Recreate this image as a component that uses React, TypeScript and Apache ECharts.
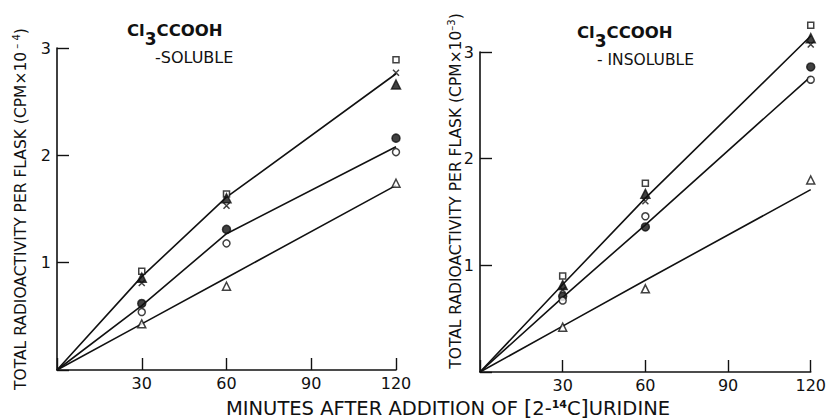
import React, { useEffect, useRef } from 'react';
import * as echarts from 'echarts';

// x positions of the measured points (minutes)
const minutes = [30, 60, 120];
// x positions of the fitted lines (minutes)
const lineMinutes = [0, 30, 60, 120];
const xTickLabels = ['30', '60', '90', '120'];
const yTickLabels = ['1', '2', '3'];

// Left panel: Cl3CCOOH-soluble (CPM x 10^-4)
const solOpenSquare = [0.92, 1.64, 2.89];
const solCross = [0.81, 1.53, 2.77];
const solFilledTriangle = [0.86, 1.6, 2.66];
const solFilledCircle = [0.62, 1.31, 2.16];
const solOpenCircle = [0.54, 1.18, 2.03];
const solOpenTriangle = [0.43, 0.78, 1.74];
const solLineUpper = [0, 0.87, 1.61, 2.76];
const solLineMiddle = [0, 0.6, 1.27, 2.08];
const solLineLower = [0, 0.43, 0.86, 1.72];

// Right panel: Cl3CCOOH-insoluble (CPM x 10^-3)
const insOpenSquare = [0.9, 1.77, 3.25];
const insCross = [0.77, 1.6, 3.07];
const insFilledTriangle = [0.815, 1.67, 3.13];
const insFilledCircle = [0.71, 1.36, 2.86];
const insOpenCircle = [0.67, 1.46, 2.74];
const insOpenTriangle = [0.42, 0.78, 1.8];
const insLineUpper = [0, 0.82, 1.63, 3.15];
const insLineMiddle = [0, 0.7, 1.38, 2.77];
const insLineLower = [0, 0.43, 0.86, 1.71];

const FONT = '"DejaVu Sans", "Liberation Sans", sans-serif';
const INK = '#111';

const crossPath = 'path://M0,0L10,10M0,10L10,0';

type MarkerDef = { name: string; symbol: string; size: number; filled: boolean; values: number[] };

function markerSeries(idx: number, defs: MarkerDef[]) {
  return defs.map((d) => ({
    type: 'scatter',
    name: d.name,
    xAxisIndex: idx,
    yAxisIndex: idx,
    symbol: d.symbol,
    symbolSize: d.size,
    clip: false,
    z: 5,
    data: minutes.map((m, i) => [m, d.values[i]]),
    itemStyle: d.symbol === crossPath
      ? { color: 'none', borderColor: INK, borderWidth: 1.5 }
      : { color: d.filled ? INK : '#fff', borderColor: INK, borderWidth: 1.5 },
  }));
}

function lineSeries(idx: number, lines: number[][]) {
  return lines.map((vals) => ({
    type: 'line',
    xAxisIndex: idx,
    yAxisIndex: idx,
    showSymbol: false,
    symbol: 'none',
    silent: true,
    clip: false,
    z: 3,
    data: lineMinutes.map((m, i) => [m, vals[i]]),
    lineStyle: { color: INK, width: 1.6 },
  }));
}

function xAxisDef(gridIndex: number) {
  return {
    type: 'value',
    gridIndex,
    min: 0,
    max: 120,
    interval: 30,
    axisLine: { show: true, lineStyle: { color: INK, width: 1.6 } },
    axisTick: { show: true, inside: true, length: 12, lineStyle: { color: INK, width: 1.4 } },
    splitLine: { show: false },
    axisLabel: {
      margin: 5,
      color: INK,
      fontFamily: FONT,
      fontSize: 16,
      formatter: (v: number) => (v === 0 ? '' : xTickLabels[v / 30 - 1] ?? ''),
    },
  };
}

function yAxisDef(gridIndex: number) {
  return {
    type: 'value',
    gridIndex,
    min: 0,
    max: 3,
    interval: 1,
    axisLine: { show: true, lineStyle: { color: INK, width: 1.6 } },
    axisTick: { show: true, inside: true, length: 12, lineStyle: { color: INK, width: 1.4 } },
    splitLine: { show: false },
    axisLabel: {
      margin: 6,
      color: INK,
      fontFamily: FONT,
      fontSize: 16,
      formatter: (v: number) => (v === 0 ? '' : yTickLabels[v - 1] ?? ''),
    },
  };
}

const titleRich = {
  a: { fontSize: 16.5, fontWeight: 'bold', fontFamily: FONT, fill: INK, lineHeight: 16, verticalAlign: 'top' },
  s: { fontSize: 17, fontWeight: 'bold', fontFamily: FONT, fill: INK, lineHeight: 25, verticalAlign: 'bottom' },
};

const yNameRich = {
  t: { fontSize: 15.5, fontFamily: FONT, fill: INK, lineHeight: 22, verticalAlign: 'middle' },
  s: { fontSize: 10, fontFamily: FONT, fill: INK, lineHeight: 22, verticalAlign: 'top', padding: [1, 0, 0, 0] },
};

export default function App() {
  const ref = useRef<HTMLDivElement>(null);
  useEffect(() => {
    if (!ref.current) return;
    const chart = echarts.init(ref.current, null, { renderer: 'svg' });
    const solMarkers: MarkerDef[] = [
      { name: 'open square', symbol: 'rect', size: 6, filled: false, values: solOpenSquare },
      { name: 'cross', symbol: crossPath, size: 6, filled: false, values: solCross },
      { name: 'filled triangle', symbol: 'triangle', size: 9, filled: true, values: solFilledTriangle },
      { name: 'filled circle', symbol: 'circle', size: 8, filled: true, values: solFilledCircle },
      { name: 'open circle', symbol: 'circle', size: 7, filled: false, values: solOpenCircle },
      { name: 'open triangle', symbol: 'triangle', size: 8, filled: false, values: solOpenTriangle },
    ];
    const insMarkers: MarkerDef[] = [
      { name: 'open square', symbol: 'rect', size: 6, filled: false, values: insOpenSquare },
      { name: 'cross', symbol: crossPath, size: 6, filled: false, values: insCross },
      { name: 'filled triangle', symbol: 'triangle', size: 9, filled: true, values: insFilledTriangle },
      { name: 'filled circle', symbol: 'circle', size: 8, filled: true, values: insFilledCircle },
      { name: 'open circle', symbol: 'circle', size: 7, filled: false, values: insOpenCircle },
      { name: 'open triangle', symbol: 'triangle', size: 8, filled: false, values: insOpenTriangle },
    ];
    chart.setOption({
      animation: false,
      backgroundColor: '#fff',
      grid: [
        { left: 57, top: 48, width: 339, height: 322 },
        { left: 480, top: 52, width: 338, height: 320 },
      ],
      xAxis: [xAxisDef(0), xAxisDef(1)],
      yAxis: [yAxisDef(0), yAxisDef(1)],
      series: [
        ...lineSeries(0, [solLineUpper, solLineMiddle, solLineLower]),
        ...lineSeries(1, [insLineUpper, insLineMiddle, insLineLower]),
        ...markerSeries(0, solMarkers),
        ...markerSeries(1, insMarkers),
      ],
      graphic: [
        {
          type: 'text',
          left: 127,
          top: 22,
          style: { text: '{a|Cl}{s|3}{a|CCOOH}', rich: titleRich },
        },
        {
          type: 'text',
          x: 155,
          y: 57,
          style: { text: '-SOLUBLE', fontSize: 16, fontFamily: FONT, fill: INK, verticalAlign: 'middle', align: 'left' },
        },
        {
          type: 'text',
          left: 577,
          top: 24,
          style: { text: '{a|Cl}{s|3}{a|CCOOH}', rich: titleRich },
        },
        {
          type: 'text',
          x: 597,
          y: 60,
          style: { text: '- INSOLUBLE', fontSize: 15.5, fontFamily: FONT, fill: INK, verticalAlign: 'middle', align: 'left' },
        },
        {
          type: 'text',
          x: 21,
          y: 209,
          rotation: Math.PI / 2,
          style: {
            text: '{t|TOTAL RADIOACTIVITY PER FLASK (CPM×10}{s| – 4}{t|)}',
            rich: yNameRich,
            align: 'center',
            verticalAlign: 'middle',
          },
        },
        {
          type: 'text',
          x: 456,
          y: 191,
          rotation: Math.PI / 2,
          style: {
            text: '{t|TOTAL RADIOACTIVITY PER FLASK (CPM×10}{s|–3}{t|)}',
            rich: yNameRich,
            align: 'center',
            verticalAlign: 'middle',
          },
        },
        {
          type: 'text',
          x: 448,
          y: 408,
          style: {
            text: '{t|MINUTES AFTER ADDITION OF }{b|[}{t|2-}{s|14}{t|C}{b|]}{t|URIDINE}',
            align: 'center',
            verticalAlign: 'middle',
            rich: {
              t: { fontSize: 19.5, fontFamily: FONT, fill: INK, lineHeight: 22, verticalAlign: 'middle' },
              b: { fontSize: 21, fontFamily: FONT, fill: INK, lineHeight: 22, verticalAlign: 'middle' },
              s: { fontSize: 11, fontFamily: FONT, fill: INK, fontWeight: 'bold', lineHeight: 22, verticalAlign: 'top', padding: [2, 0, 0, 0] },
            },
          },
        },
      ],
    });
    return () => chart.dispose();
  }, []);
  return (
    <div
      ref={ref}
      style={{ position: 'absolute', left: 0, top: 0, width: 829, height: 420, background: '#fff' }}
    />
  );
}
